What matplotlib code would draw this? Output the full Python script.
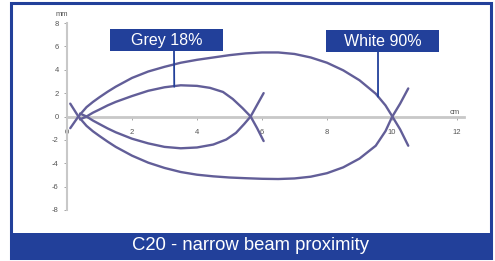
import matplotlib
matplotlib.use("Agg")
import matplotlib.pyplot as plt
from matplotlib.patches import Rectangle

plt.rcParams['font.family'] = ['Liberation Sans', 'DejaVu Sans']

# ---- data ----
grey_upper_x = [0.4, 0.6, 0.8, 1.0, 1.25, 1.5, 2.0, 2.5, 3.0, 3.5, 4.0, 4.4, 4.8, 5.1, 5.4, 5.65, 5.85, 6.05]
grey_upper_y = [-0.25, 0.0, 0.33, 0.6, 0.95, 1.25, 1.75, 2.2, 2.5, 2.67, 2.62, 2.45, 2.1, 1.5, 0.72, 0.0, -1.0, -2.1]
grey_lower_x = [0.4, 0.6, 0.8, 1.0, 1.25, 1.5, 2.0, 2.5, 3.0, 3.5, 4.0, 4.5, 4.9, 5.2, 5.45, 5.65, 5.85, 6.05]
grey_lower_y = [0.25, 0.0, -0.35, -0.65, -1.02, -1.35, -1.9, -2.3, -2.6, -2.72, -2.65, -2.4, -1.97, -1.4, -0.65, 0.0, 1.0, 2.0]

white_upper_x = [0.1, 0.35, 0.6, 0.8, 1.0, 1.25, 1.5, 2.0, 2.5, 3.0, 3.5, 4.0, 4.5, 5.0, 5.5, 6.0, 6.5, 7.0, 7.5, 8.0, 8.5, 9.0, 9.5, 9.8, 10.0, 10.25, 10.5]
white_upper_y = [-1.0, 0.0, 0.8, 1.25, 1.65, 2.12, 2.55, 3.3, 3.85, 4.25, 4.6, 4.85, 5.05, 5.25, 5.4, 5.48, 5.48, 5.35, 5.05, 4.6, 3.95, 3.1, 1.95, 0.95, 0.05, -1.1, -2.5]
white_lower_x = [0.1, 0.35, 0.6, 0.8, 1.0, 1.25, 1.5, 2.0, 2.5, 3.0, 3.5, 4.0, 4.5, 5.0, 5.5, 6.0, 6.5, 7.0, 7.5, 8.0, 8.5, 9.0, 9.5, 9.8, 10.0, 10.25, 10.5]
white_lower_y = [1.1, 0.0, -0.8, -1.27, -1.67, -2.15, -2.6, -3.35, -3.95, -4.4, -4.75, -4.98, -5.12, -5.22, -5.28, -5.33, -5.35, -5.3, -5.15, -4.85, -4.35, -3.6, -2.5, -1.25, -0.05, 1.1, 2.4]

x_ticks = [0, 2, 4, 6, 8, 10, 12]
y_ticks = [-8, -6, -4, -2, 0, 2, 4, 6, 8]
labels = ["Grey 18%", "White 90%"]
label_points = [(3.3, 2.55), (9.57, 1.7)]
title = "C20 - narrow beam proximity"

W, H = 495, 261
fig = plt.figure(figsize=(W / 100, H / 100), dpi=100)
fig.patch.set_facecolor('white')

BLUE = '#22409A'
CURVE = '#625e98'
AX_GREY = '#c8c8c8'

def fx(px):
    return px / W

def fy(py):
    return 1 - py / H

# outer frame
fig.add_artist(Rectangle((fx(11), fy(258)), fx(491) - fx(11), fy(3) - fy(258),
                         transform=fig.transFigure, fill=False, edgecolor=BLUE, linewidth=2.2))
# bottom banner
fig.add_artist(Rectangle((fx(10), fy(258.5)), fx(492) - fx(10), fy(233) - fy(258.5),
                         transform=fig.transFigure, facecolor=BLUE, edgecolor='none'))
fig.text(fx(250), fy(246), title, color='white', fontsize=13.3, ha='center', va='center')

ax = fig.add_axes([fx(67), fy(210), fx(463.5) - fx(67), fy(23) - fy(210)])
ax.set_facecolor('none')
ax.set_xlim(0, 12.2)
ax.set_ylim(-8, 8)

for xs, ys in [(grey_upper_x, grey_upper_y), (grey_lower_x, grey_lower_y),
               (white_upper_x, white_upper_y), (white_lower_x, white_lower_y)]:
    ax.plot(xs, ys, color=CURVE, linewidth=1.7, solid_capstyle='round',
            solid_joinstyle='round', zorder=3)

for s in ['top', 'right']:
    ax.spines[s].set_visible(False)
ax.spines['bottom'].set_position(('data', 0))
ax.spines['bottom'].set_color(AX_GREY)
ax.spines['bottom'].set_linewidth(2.0)
ax.spines['left'].set_color(AX_GREY)
ax.spines['left'].set_linewidth(1.5)
ax.spines['left'].set_bounds(-8, 8)

ax.set_xticks(x_ticks)
ax.set_xticklabels([str(v) for v in x_ticks])
ax.set_yticks(y_ticks)
ax.set_yticklabels([str(v) for v in y_ticks])
ax.tick_params(axis='x', length=2, width=0.6, color='#999999', pad=7, labelsize=5.5, labelcolor='#555555')
ax.tick_params(axis='y', length=2.5, width=0.6, color='#999999', pad=3.5, labelsize=5.5, labelcolor='#555555')

fig.text(fx(62), fy(15), 'mm', fontsize=5.5, color='#555555', ha='center', va='center')
fig.text(fx(455), fy(112), 'cm', fontsize=5.5, color='#555555', ha='center', va='center')

# label boxes
boxes = [((110, 29), (223, 51)), ((326, 30), (439, 52))]
line_x = [174, 378]
for lab, (p0, p1), lx, pt in zip(labels, boxes, line_x, label_points):
    fig.add_artist(Rectangle((fx(p0[0]), fy(p1[1])), fx(p1[0]) - fx(p0[0]), fy(p0[1]) - fy(p1[1]),
                             transform=fig.transFigure, facecolor=BLUE, edgecolor='none', zorder=5))
    fig.text(fx((p0[0] + p1[0]) / 2), fy((p0[1] + p1[1]) / 2 + 0.5), lab, color='white',
             fontsize=11.5, ha='center', va='center', zorder=6)
    ax.annotate('', xy=pt, xycoords='data', xytext=(fx(lx), fy(p1[1])), textcoords='figure fraction',
                arrowprops=dict(arrowstyle='-', color=BLUE, linewidth=1.3, shrinkA=0, shrinkB=0), zorder=4)

fig.savefig('out.png', dpi=100)
